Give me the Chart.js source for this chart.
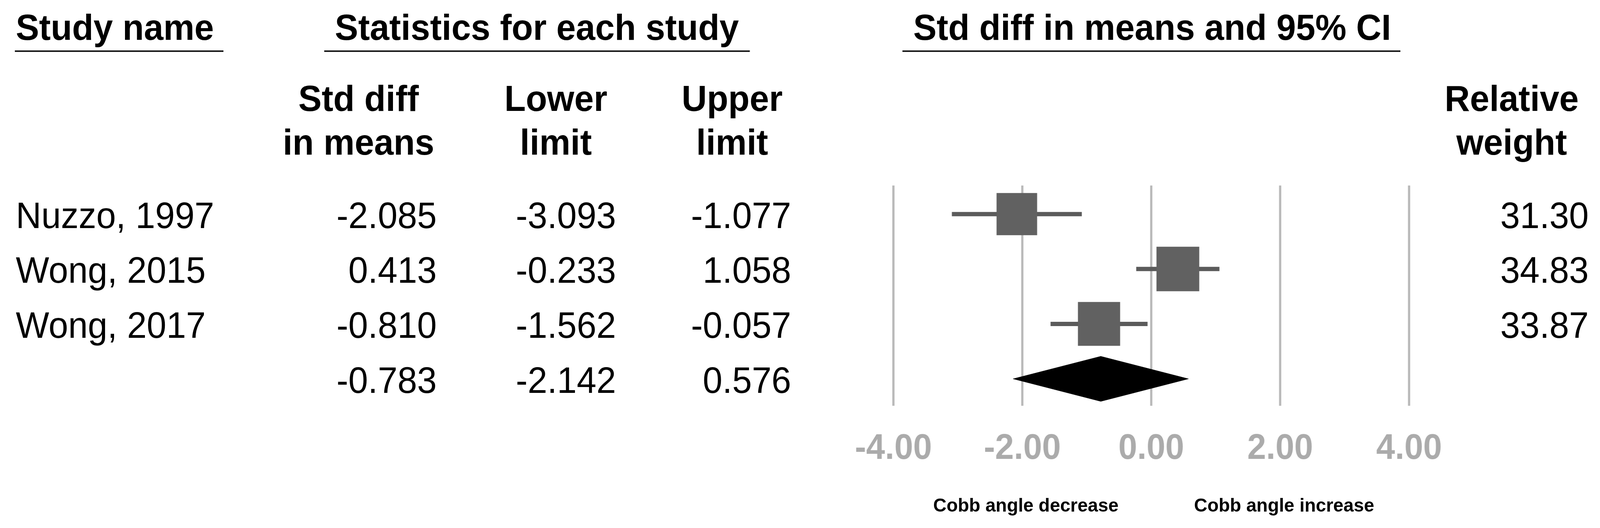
<!DOCTYPE html>
<html>
<head>
<meta charset="utf-8">
<script src="https://cdn.jsdelivr.net/npm/chart.js@4/dist/chart.umd.min.js"></script>
<style>
  html, body { margin: 0; padding: 0; background: #fff; overflow: hidden; }
  #page { position: relative; width: 4257px; height: 1352px; overflow: hidden; font-family: "Liberation Sans", Arial, sans-serif; color: #000; transform-origin: 0 0; }
  #forest { position: absolute; left: 0; top: 0; }
  .t { position: absolute; white-space: nowrap; line-height: 1; }
  .rule { position: absolute; height: 4px; background: #1a1a1a; }
</style>
</head>
<body>
<div id="page">
  <canvas id="forest" width="4257" height="1352"></canvas>
</div>
<script>
// study level data
const studies = ["Nuzzo, 1997", "Wong, 2015", "Wong, 2017"]
const stdDiff = [-2.085, 0.413, -0.810]
const lowerLimit = [-3.093, -0.233, -1.562]
const upperLimit = [-1.077, 1.058, -0.057]
const relWeight = [31.30, 34.83, 33.87]

// pooled result
const pooledDiff = -0.783
const pooledLower = -2.142
const pooledUpper = 0.576

const xTicks = [-4, -2, 0, 2, 4]

const page = document.querySelector('#page')

// fit the fixed 4257x1352 layout into whatever viewport we get
const sx = (window.innerWidth || 4257) / 4257
const sy = (window.innerHeight || 1352) / 1352
page.style.transform = `scale(${sx}, ${sy})`

// baseline-anchored text helper
function addText(str, x, baseline, size, opts = {}) {
  let el = document.createElement('div')
  el.className = 't'
  el.textContent = str
  el.style.fontSize = size + 'px'
  el.style.fontWeight = opts.bold ? 'bold' : 'normal'
  el.style.top = (baseline - 0.8465 * size) + 'px'
  el.style.left = x + 'px'
  if (opts.align == 'right') el.style.transform = 'translateX(-100%)'
  if (opts.align == 'center') el.style.transform = 'translateX(-50%)'
  page.appendChild(el)
}

function addRule(x1, x2, y) {
  let el = document.createElement('div')
  el.className = 'rule'
  el.style.left = x1 + 'px'
  el.style.width = (x2 - x1) + 'px'
  el.style.top = y + 'px'
  page.appendChild(el)
}

// top headers
addText('Study name', 42, 103, 93, { bold: true })
addText('Statistics for each study', 891, 103, 93, { bold: true })
addText('Std diff in means and 95% CI', 2430, 103, 93, { bold: true })
addRule(39, 595, 129)
addRule(863, 1995, 129)
addRule(2401, 3726, 129)

// column headers
const colHeads = [["Std diff", "in means"], ["Lower", "limit"], ["Upper", "limit"], ["Relative", "weight"]]
const colCenters = [954, 1479, 1948, 4022]
colHeads.forEach((h, i) => {
  addText(h[0], colCenters[i], 285, 93, { bold: true, align: 'center' })
  addText(h[1], colCenters[i], 397, 93, { bold: true, align: 'center' })
})

// table rows
const rowBase = [585, 725, 866, 1007]
const numRight = [1162, 1639, 2105]
studies.forEach((name, i) => {
  addText(name, 42, rowBase[i], 94)
  addText(stdDiff[i].toFixed(3), numRight[0], rowBase[i], 94, { align: 'right' })
  addText(lowerLimit[i].toFixed(3), numRight[1], rowBase[i], 94, { align: 'right' })
  addText(upperLimit[i].toFixed(3), numRight[2], rowBase[i], 94, { align: 'right' })
  addText(relWeight[i].toFixed(2), 4227, rowBase[i], 94, { align: 'right' })
})
addText(pooledDiff.toFixed(3), numRight[0], rowBase[3], 94, { align: 'right' })
addText(pooledLower.toFixed(3), numRight[1], rowBase[3], 94, { align: 'right' })
addText(pooledUpper.toFixed(3), numRight[2], rowBase[3], 94, { align: 'right' })

// axis captions
addText('Cobb angle decrease', 2483, 1310, 49, { bold: true })
addText('Cobb angle increase', 3177, 1310, 49, { bold: true })

// chart
const rows = studies.map((s, i) => i + 1)
const pooledRow = studies.length + 1
const diamondHalf = 0.41

let whiskers = studies.map((s, i) => ({
  type: 'line',
  data: [{ x: lowerLimit[i], y: rows[i] }, { x: upperLimit[i], y: rows[i] }],
  borderColor: '#5b5b5b',
  borderWidth: 11,
  borderCapStyle: 'butt',
  pointRadius: 0,
  order: 2,
}))

let boxes = {
  type: 'scatter',
  data: studies.map((s, i) => ({ x: stdDiff[i], y: rows[i] })),
  pointStyle: 'rect',
  pointRadius: relWeight.map(w => 19.3 * Math.sqrt(w) / Math.SQRT2),
  backgroundColor: '#616161',
  borderWidth: 0,
  order: 1,
}

let diamond = {
  type: 'line',
  data: [
    { x: pooledLower, y: pooledRow },
    { x: pooledDiff, y: pooledRow - diamondHalf },
    { x: pooledUpper, y: pooledRow },
    { x: pooledDiff, y: pooledRow + diamondHalf },
    { x: pooledLower, y: pooledRow },
  ],
  borderColor: '#000',
  backgroundColor: '#000',
  borderWidth: 1,
  pointRadius: 0,
  fill: 'shape',
  tension: 0,
  order: 0,
}

const chart = new Chart(document.querySelector('#forest'), {
  type: 'scatter',
  data: { datasets: [...whiskers, boxes, diamond] },
  options: {
    responsive: false,
    animation: false,
    devicePixelRatio: 1,
    layout: { padding: { left: 2377, right: 508, top: 475, bottom: 0 } },
    plugins: { legend: { display: false }, tooltip: { enabled: false } },
    scales: {
      x: {
        type: 'linear',
        min: -4,
        max: 4,
        afterBuildTicks: scale => { scale.ticks = xTicks.map(v => ({ value: v })) },
        afterFit: scale => { scale.height = 313 },
        grid: { color: '#bababa', lineWidth: 6, drawTicks: false },
        border: { display: false },
        ticks: {
          padding: 57,
          color: '#ababab',
          font: { family: '"Liberation Sans", Arial, sans-serif', size: 90, weight: 'bold' },
          callback: v => v.toFixed(2),
          maxRotation: 0,
        },
      },
      y: {
        type: 'linear',
        display: false,
        reverse: true,
        min: 0.48,
        max: 4.49,
      },
    },
  },
})
</script>
</body>
</html>
